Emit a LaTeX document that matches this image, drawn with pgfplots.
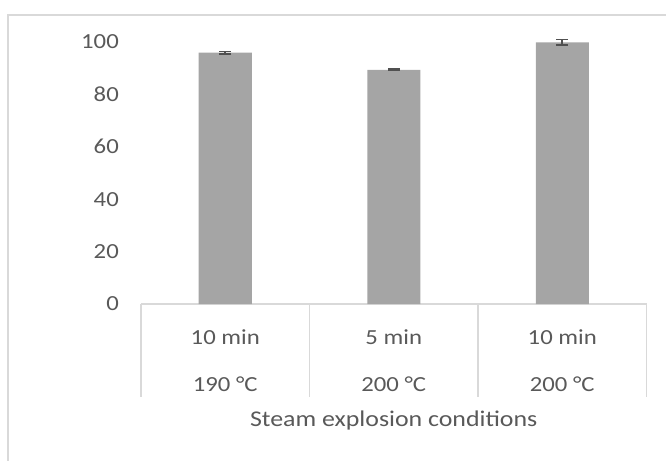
\documentclass[border=0pt]{standalone}
\usepackage{pgfplots}
\pgfplotsset{compat=1.18}
\usepackage{fontspec}
\setmainfont[FakeStretch=1.15]{Carlito}
\definecolor{barc}{HTML}{A5A5A5}
\definecolor{txt}{HTML}{595959}
\definecolor{errc}{HTML}{505050}
\definecolor{linec}{HTML}{D9D9D9}
\begin{document}
\begin{tikzpicture}
\begin{axis}[
  name=ax,
  scale only axis,
  width=505.5bp, height=262bp,
  xmin=-0.5, xmax=2.5,
  ymin=0, ymax=100,
  clip=false,
  axis x line*=bottom,
  axis y line*=left,
  y axis line style={draw=none},
  x axis line style={draw=linec, line width=1.2bp, -},
  xtick=data,
  xticklabels={{10 min\\190 °C},{5 min\\200 °C},{10 min\\200 °C}},
  xticklabel style={align=center, anchor=center, yshift=-56.5bp, text=txt,
     font=\fontsize{21.5bp}{47bp}\selectfont},
  major tick length=0pt,
  ytick={0,20,40,60,80,100},
  yticklabel style={anchor=east, inner sep=0pt, xshift=-22bp, text=txt, font=\fontsize{21.5bp}{25bp}\selectfont},
  /pgf/number format/assume math mode=true,
  xlabel={Steam explosion conditions},
  xlabel style={at={(axis description cs:0.5,0)}, anchor=center, yshift=-116bp, text=txt, font=\fontsize{22.5bp}{25bp}\selectfont},
]
\addplot[ybar, bar width=53bp, fill=barc, draw=none,
  error bars/.cd, y dir=both, y explicit,
  error bar style={draw=errc, line width=1.6bp},
  error mark options={rotate=90, mark size=6bp, line width=1.6bp, draw=errc}]
  coordinates {(0,95.9) +- (0,0.4) (1,89.4) +- (0,0.3) (2,99.9) +- (0,1.1)};
\foreach \xx in {-0.5,0.5,1.5,2.5}{
  \edef\tmp{\noexpand\draw[linec, line width=1.2bp] (axis cs:\xx,0) -- ([yshift=-93bp]axis cs:\xx,0);}
  \tmp
}
\end{axis}
\path[use as bounding box] ([shift={(-141bp,-157bp)}]ax.south west) rectangle ([shift={(525bp,304bp)}]ax.south west);
\draw[linec, line width=1.2bp] ([shift={(-133bp,-170bp)}]ax.south west) -- ([shift={(-133bp,289bp)}]ax.south west) -- ([shift={(540bp,289bp)}]ax.south west);
\end{tikzpicture}
\end{document}
